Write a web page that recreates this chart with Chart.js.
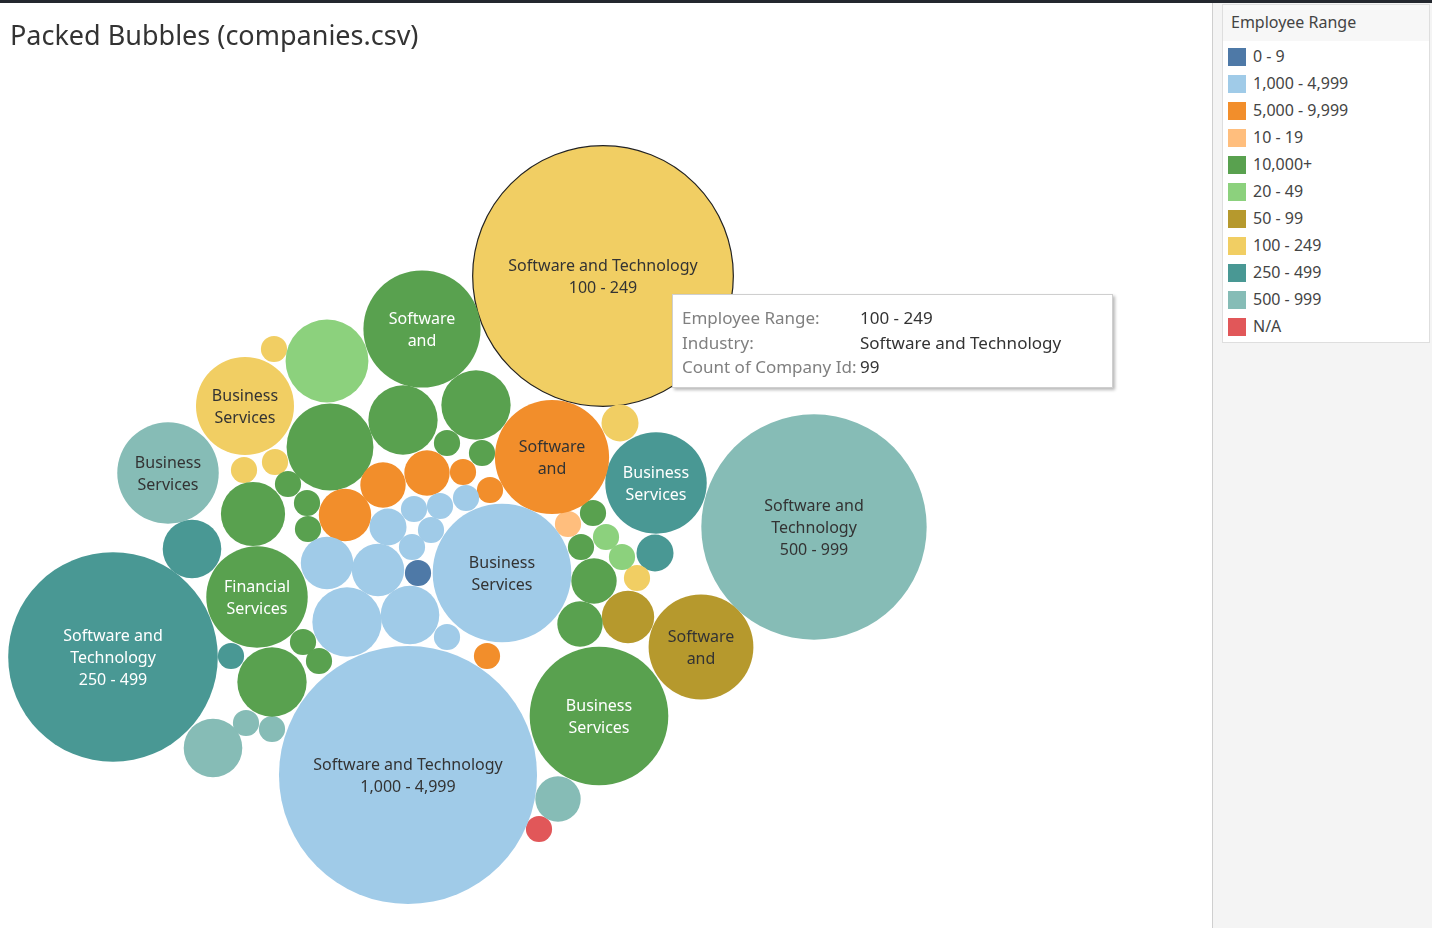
<!DOCTYPE html>
<html>
<head>
<meta charset="utf-8">
<script src="https://cdn.jsdelivr.net/npm/chart.js@4.4.1/dist/chart.umd.min.js"></script>
<style>
  html, body { margin: 0; padding: 0; background: #fff; font-family: "Noto Sans", sans-serif; }
  #page { position: relative; width: 1432px; height: 928px; overflow: hidden; }
  #topbar { position: absolute; left: 0; top: 0; width: 1432px; height: 3px; background: #23272e; z-index: 5; }
  #title { position: absolute; left: 10px; top: 16px; font-size: 27px; color: #333; z-index: 3; }
  #plot { position: absolute; left: -140px; top: -140px; width: 1492px; height: 1208px; }
  #side { position: absolute; left: 1212px; top: 0; width: 220px; height: 928px; background: #f4f4f4; border-left: 1px solid #cfcfcf; }
  #legend { position: absolute; left: 1222px; top: 4px; width: 206px; background: #fff; border: 1px solid #dedede; z-index: 3; }
  #legend .head { height: 36px; line-height: 35px; background: #f7f7f7; padding-left: 8px; font-size: 16px; color: #444; }
  #legend .row { height: 27px; line-height: 27px; position: relative; font-size: 16px; color: #444; }
  #legend .row span.sw { position: absolute; left: 5px; top: 5px; width: 18px; height: 18px; }
  #legend .row span.tx { position: absolute; left: 30px; }
  #legend .pad { height: 2px; }
  #tip { position: absolute; left: 672px; top: 294px; width: 439px; height: 92px; background: #fff;
         border: 1px solid #cfcfcf; box-shadow: 2px 2px 3px rgba(0,0,0,0.28); z-index: 4; font-size: 17px; }
  #tip .r { position: absolute; left: 9px; height: 24px; line-height: 24px; }
  #tip .k { color: #808080; }
  #tip .v { position: absolute; left: 178px; color: #333; white-space: nowrap; }
</style>
</head>
<body>
<div id="page">
  <div id="topbar"></div>
  <div id="plot"><canvas id="bubbles"></canvas></div>
  <div id="title">Packed Bubbles (companies.csv)</div>
  <div id="side"></div>
  <div id="legend"></div>
  <div id="tip"></div>
</div>
<script>
// legend order and colours
var rangeNames = ['0 - 9', '1,000 - 4,999', '5,000 - 9,999', '10 - 19', '10,000+', '20 - 49',
                  '50 - 99', '100 - 249', '250 - 499', '500 - 999', 'N/A'];
var rangeColors = ['#4e79a7', '#a0cbe8', '#f28e2b', '#ffbe7d', '#59a14f', '#8cd17d',
                   '#b6992d', '#f1ce63', '#499894', '#86bcb6', '#e15759'];
var darkRanges = ['0 - 9', '10,000+', '250 - 499'];

// one entry per bubble (industry x employee range)
var industry = [
  'Software and Technology', 'Software and Technology', 'Software and Technology', 'Software and Technology',
  'Business Services', 'Business Services', 'Software and Technology', 'Software and Technology',
  'Software and Technology', 'Business Services', 'Business Services', 'Financial Services',
  'Business Services', 'Healthcare', 'Software and Technology', 'Manufacturing',
  'Healthcare', 'Retail and Wholesale', 'Media and Communication', 'Financial Services',
  'Healthcare', 'Manufacturing', 'Retail and Wholesale', 'Financial Services',
  'Financial Services', 'Financial Services', 'Healthcare', 'Manufacturing',
  'Insurance', 'Business Services', 'Aerospace and Defense', 'Healthcare',
  'Healthcare', 'Healthcare', 'Media and Communication', 'Business Services',
  'Financial Services', 'Healthcare', 'Retail and Wholesale',
  'Education', 'Energy and Utilities', 'Pharmaceutical', 'Telecommunications', 'Transportation',
  'Government', 'Real Estate', 'Construction', 'Nonprofit',
  'Retail and Wholesale', 'Insurance', 'Energy and Utilities',
  'Education', 'Pharmaceutical', 'Telecommunications', 'Aerospace and Defense', 'Transportation', 'Real Estate',
  'Business Services', 'Business Services', 'Business Services', 'Financial Services',
  'Media and Communication', 'Financial Services', 'Manufacturing', 'Manufacturing'
];
var employeeRange = [
  '100 - 249', '1,000 - 4,999', '500 - 999', '250 - 499',
  '10,000+', '1,000 - 4,999', '10,000+', '5,000 - 9,999',
  '50 - 99', '250 - 499', '500 - 999', '10,000+',
  '100 - 249', '10,000+', '20 - 49', '10,000+',
  '10,000+', '10,000+', '10,000+', '1,000 - 4,999',
  '1,000 - 4,999', '1,000 - 4,999', '1,000 - 4,999', '250 - 499',
  '500 - 999', '5,000 - 9,999', '5,000 - 9,999', '5,000 - 9,999',
  '10,000+', '50 - 99', '10,000+', '500 - 999',
  '250 - 499', '100 - 249', '1,000 - 4,999', 'N/A',
  '100 - 249', '100 - 249', '100 - 249',
  '10,000+', '10,000+', '10,000+', '10,000+', '10,000+',
  '10,000+', '10,000+', '10,000+', '10,000+',
  '5,000 - 9,999', '5,000 - 9,999', '5,000 - 9,999',
  '1,000 - 4,999', '1,000 - 4,999', '1,000 - 4,999', '1,000 - 4,999', '1,000 - 4,999', '1,000 - 4,999',
  '0 - 9', '10 - 19', '20 - 49', '20 - 49',
  '100 - 249', '250 - 499', '500 - 999', '500 - 999'
];
var companyCount = [
  99, 97, 74, 64,
  28, 28, 20, 19,
  16, 15, 15, 15,
  14, 11, 10, 7,
  7, 7, 6, 7,
  5, 4, 4, 5,
  5, 4, 3, 3,
  3, 4, 3, 3,
  2, 2, 2, 1,
  1, 1, 1,
  1, 1, 1, 1, 1,
  1, 1, 1, 1,
  1, 1, 1,
  1, 1, 1, 1, 1, 1,
  1, 1, 1, 1,
  1, 1, 1, 1
];
// packed layout position of each bubble centre (layout units)
var packX = [
  603, 408, 814, 113,
  599, 502, 422, 552,
  701, 656, 168, 257,
  245, 330, 327, 403,
  476, 272, 253, 347,
  410, 327, 378, 192,
  213, 345, 383, 427,
  594, 628, 580, 558,
  655, 620, 388, 539,
  274, 244, 275,
  288, 307, 308, 447, 482,
  593, 581, 303, 319,
  463, 490, 487,
  414, 440, 466, 431, 412, 447,
  418, 568, 606, 622,
  637, 231, 246, 272
];
var packY = [
  276, 775, 527, 657,
  716, 573, 329, 457,
  647, 483, 473, 597,
  406, 447, 361, 420,
  405, 682, 514, 622,
  615, 563, 570, 549,
  748, 515, 485, 473,
  581, 617, 624, 799,
  553, 423, 527, 829,
  349, 470, 462,
  484, 503, 529, 443, 453,
  513, 547, 642, 661,
  472, 490, 656,
  509, 506, 498, 530, 547, 637,
  573, 524, 537, 557,
  578, 656, 723, 729
];
var tooltipIndex = 0;

var radiusPerSqrt = 13.1;
var plotMargin = 140; // canvas extends past the page so no bubble is culled at the chart area edge

var datasets = rangeNames.map(function (name, k) {
  var pts = [];
  for (var i = 0; i < industry.length; i++) {
    if (employeeRange[i] !== name) continue;
    pts.push({ x: packX[i], y: packY[i], r: radiusPerSqrt * Math.sqrt(companyCount[i]),
               idx: i, industry: industry[i], range: name, count: companyCount[i] });
  }
  return {
    label: name,
    data: pts,
    clip: false,
    backgroundColor: rangeColors[k],
    borderColor: function (c) { return c.raw && c.raw.idx === tooltipIndex ? '#222' : 'rgba(255,255,255,0)'; },
    borderWidth: function (c) { return c.raw && c.raw.idx === tooltipIndex ? 1.2 : 0; }
  };
});

function labelLines(ind, range, r) {
  var words = ind.split(' ');
  if (r >= 120) return [ind, range];
  if (r >= 100) return [words.slice(0, 2).join(' '), words.slice(2).join(' '), range];
  if (r >= 45) return words.slice(0, 2);
  return [];
}

var bubbleLabels = {
  id: 'bubbleLabels',
  afterDatasetsDraw: function (chart) {
    var ctx = chart.ctx;
    ctx.save();
    ctx.font = '16px "Noto Sans"';
    ctx.textAlign = 'center';
    ctx.textBaseline = 'middle';
    chart.data.datasets.forEach(function (ds, di) {
      var meta = chart.getDatasetMeta(di);
      meta.data.forEach(function (el, j) {
        var p = ds.data[j];
        var lines = labelLines(p.industry, p.range, p.r);
        if (!lines.length) return;
        ctx.fillStyle = darkRanges.indexOf(p.range) >= 0 ? '#ffffff' : '#333333';
        var lh = 22;
        var y0 = el.y + 1.5 - (lines.length - 1) * lh / 2;
        lines.forEach(function (t, n) { ctx.fillText(t, el.x, y0 + n * lh); });
      });
    });
    ctx.restore();
  }
};

var chart = new Chart(document.getElementById('bubbles'), {
  type: 'bubble',
  data: { datasets: datasets },
  options: {
    responsive: true,
    maintainAspectRatio: false,
    animation: false,
    events: [],
    layout: { padding: 0 },
    scales: {
      x: { type: 'linear', min: 0, max: 1212, display: false },
      y: { type: 'linear', min: 0, max: 928, reverse: true, display: false }
    },
    plugins: { legend: { display: false }, tooltip: { enabled: false } }
  },
  plugins: [bubbleLabels]
});

// one layout unit per pixel, measured from the page's top-left corner
var area = chart.chartArea;
chart.options.scales.x.min = area.left - plotMargin;
chart.options.scales.x.max = area.right - plotMargin;
chart.options.scales.y.min = area.top - plotMargin;
chart.options.scales.y.max = area.bottom - plotMargin;
chart.update('none');

// legend
var lg = document.getElementById('legend');
var html = '<div class="head">Employee Range</div><div class="pad"></div>';
rangeNames.forEach(function (n, k) {
  html += '<div class="row"><span class="sw" style="background:' + rangeColors[k] + '"></span><span class="tx">' + n + '</span></div>';
});
html += '<div class="pad"></div>';
lg.innerHTML = html;

// static tooltip of the highlighted bubble
var tip = document.getElementById('tip');
var rows = [['Employee Range:', employeeRange[tooltipIndex]],
            ['Industry:', industry[tooltipIndex]],
            ['Count of Company Id:', String(companyCount[tooltipIndex])]];
tip.innerHTML = rows.map(function (r, n) {
  return '<div class="r" style="top:' + (11 + n * 24.5) + 'px"><span class="k">' + r[0] + '</span><span class="v">' + r[1] + '</span></div>';
}).join('');
</script>
</body>
</html>
